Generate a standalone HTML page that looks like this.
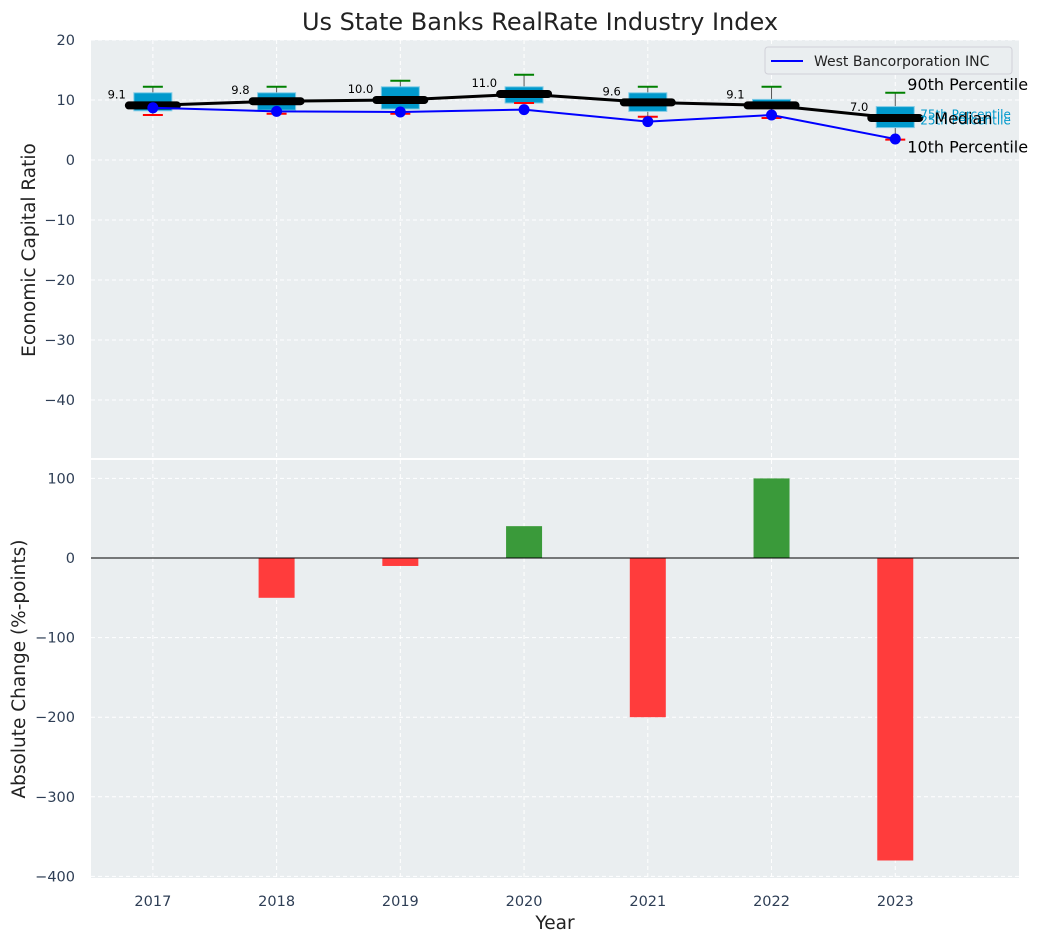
<!DOCTYPE html>
<html><head><meta charset="utf-8">
<style>
html,body{margin:0;padding:0;background:#fff;}
svg{display:block;font-family:"DejaVu Sans","Liberation Sans",sans-serif;}
</style></head>
<body>
<svg id="chart" width="1044" height="942" viewBox="0 0 1044 942"></svg>
<script>
const years = ["2017","2018","2019","2020","2021","2022","2023"];
const medians = [9.1, 9.8, 10.0, 11.0, 9.6, 9.1, 7.0];
const q75 = [11.2, 11.2, 12.2, 12.2, 11.2, 10.1, 8.9];
const q25 = [8.2, 8.3, 8.5, 9.5, 8.1, 8.6, 5.4];
const p90 = [12.2, 12.2, 13.2, 14.2, 12.2, 12.2, 11.2];
const p10 = [7.5, 7.7, 7.7, 9.5, 7.2, 7.0, 3.4];
const company = [8.7, 8.1, 8.0, 8.4, 6.4, 7.5, 3.5];
const changes = [0, -50, -10, 40, -200, 100, -380];
const topTicks = [20, 10, 0, -10, -20, -30, -40];
const botTicks = [100, 0, -100, -200, -300, -400];

const NS = "http://www.w3.org/2000/svg";
const svg = document.getElementById("chart");
function el(tag, attrs, parent) {
  const e = document.createElementNS(NS, tag);
  for (const k in attrs) e.setAttribute(k, attrs[k]);
  (parent || svg).appendChild(e);
  return e;
}
const L = 91, R = 1019;
const x = i => L + (i + 0.5) / 7.5 * (R - L);
const T1 = 40, B1 = 458;
const y1 = v => T1 + (20 - v) / 70 * (B1 - T1 + 2);
const T2 = 460, B2 = 878;
const y2 = v => 558 + (0 - v) * (B2 - 558) / 402;

let t = el("text", {x: 540, y: 30, "text-anchor": "middle", "font-size": 24, fill: "#222"});
t.textContent = "Us State Banks RealRate Industry Index";



let bg1 = el("rect", {x: L, y: T1, width: R - L, height: B1 - T1, fill: "#eaeef0"});


let bg2 = el("rect", {x: L, y: T2, width: R - L, height: B2 - T2, fill: "#eaeef0"});



years.forEach((yr, i) => {
  el("line", {x1: x(i), x2: x(i), y1: T1, y2: B1, stroke: "#fff", "stroke-dasharray": "4,3", "stroke-width": 1});
  el("line", {x1: x(i), x2: x(i), y1: T2, y2: B2, stroke: "#fff", "stroke-dasharray": "4,3", "stroke-width": 1});
  let lb = el("text", {x: x(i), y: 906, "text-anchor": "middle", "font-size": 14.5, fill: "#2e3e55"});
  lb.textContent = yr;
  
  
});
topTicks.forEach(v => {
  el("line", {x1: L, x2: R, y1: y1(v), y2: y1(v), stroke: "#fff", "stroke-dasharray": "4,3", "stroke-width": 1});
  let lb = el("text", {x: 75, y: y1(v) + 5, "text-anchor": "end", "font-size": 14.5, fill: "#2e3e55"});
  lb.textContent = v < 0 ? "\u2212" + Math.abs(v) : v;
  
  
});
botTicks.forEach(v => {
  el("line", {x1: L, x2: R, y1: y2(v), y2: y2(v), stroke: "#fff", "stroke-dasharray": "4,3", "stroke-width": 1});
  let lb = el("text", {x: 75, y: y2(v) + 5, "text-anchor": "end", "font-size": 14.5, fill: "#2e3e55"});
  lb.textContent = v < 0 ? "\u2212" + Math.abs(v) : v;
  
  
});

let yt1 = el("text", {x: 35, y: 250, "text-anchor": "middle", "font-size": 18.5, fill: "#222", transform: "rotate(-90 35 250)"});
yt1.textContent = "Economic Capital Ratio";


let yt2 = el("text", {x: 25, y: 669, "text-anchor": "middle", "font-size": 18.5, fill: "#222", transform: "rotate(-90 25 669)"});
yt2.textContent = "Absolute Change (%-points)";


let xt = el("text", {x: 555, y: 929, "text-anchor": "middle", "font-size": 18.5, fill: "#222"});
xt.textContent = "Year";



years.forEach((yr, i) => {
  const cx = x(i);
  let w = el("line", {x1: cx, x2: cx, y1: y1(p90[i]), y2: y1(p10[i]), stroke: "#555", "stroke-width": 1});
  
  
  let b = el("rect", {x: cx - 19, y: y1(q75[i]), width: 38, height: y1(q25[i]) - y1(q75[i]), fill: "#0099cc", stroke: "#7fcbe6", "stroke-width": 1});
  
  
  let c1 = el("line", {x1: cx - 10, x2: cx + 10, y1: y1(p90[i]), y2: y1(p90[i]), stroke: "green", "stroke-width": 2});
  
  
  let c2 = el("line", {x1: cx - 10, x2: cx + 10, y1: y1(p10[i]), y2: y1(p10[i]), stroke: "red", "stroke-width": 2});
  
  
});
let mp = medians.map((v, i) => x(i) + "," + y1(v)).join(" ");
let ml = el("polyline", {points: mp, fill: "none", stroke: "#000", "stroke-width": 3});


medians.forEach((v, i) => {
  let m = el("line", {x1: x(i) - 24, x2: x(i) + 24, y1: y1(v), y2: y1(v), stroke: "#000", "stroke-width": 8, "stroke-linecap": "round"});
  
  
  let lb = el("text", {x: x(i) - 27, y: y1(v) - 7, "text-anchor": "end", "font-size": 11.5, fill: "#000"});
  lb.textContent = v.toFixed(1);
  
  
});
let cp = company.map((v, i) => x(i) + "," + y1(v)).join(" ");
let cl = el("polyline", {points: cp, fill: "none", stroke: "blue", "stroke-width": 2});


company.forEach((v, i) => {
  let d = el("circle", {cx: x(i), cy: y1(v), r: 5.5, fill: "blue"});
  
  
});

const li = 6, lx = x(li);
function ann(txt, xx, yy, size, col, name) {
  let a = el("text", {x: xx, y: yy, "font-size": size, fill: col});
  a.textContent = txt;
  
  
}
ann("90th Percentile", lx + 12, y1(p90[li]) - 3, 16, "#000", 'annotation-p90');
ann("75th Percentile", lx + 25, y1(q75[li]) + 12, 12, "#0099cc", 'annotation-p75');
ann("25th Percentile", lx + 25, y1(q25[li]) - 3, 12, "#0099cc", 'annotation-p25');
ann("Median", lx + 39, y1(medians[li]) + 6, 16, "#000", 'annotation-median');
ann("10th Percentile", lx + 12, y1(p10[li]) + 13, 16, "#000", 'annotation-p10');

let lg = el("g", {});


el("rect", {x: 765, y: 47, width: 247, height: 27, rx: 3, fill: "#eaeef0", stroke: "#d0d0d8"}, lg);
el("line", {x1: 771, x2: 803, y1: 61, y2: 61, stroke: "blue", "stroke-width": 2}, lg);
let lt = el("text", {x: 814, y: 66, "font-size": 14, fill: "#222"}, lg);
lt.textContent = "West Bancorporation INC";



changes.forEach((v, i) => {
  if (v === 0) return;
  const ya = y2(Math.max(v, 0)), yb = y2(Math.min(v, 0));
  let b = el("rect", {x: x(i) - 18, y: ya, width: 36, height: yb - ya, fill: v > 0 ? "#3a9a3a" : "#ff3c3c"});
  
  
});
let zl = el("line", {x1: L, x2: R, y1: y2(0), y2: y2(0), stroke: "#000", "stroke-width": 1});


</script>
</body></html>
